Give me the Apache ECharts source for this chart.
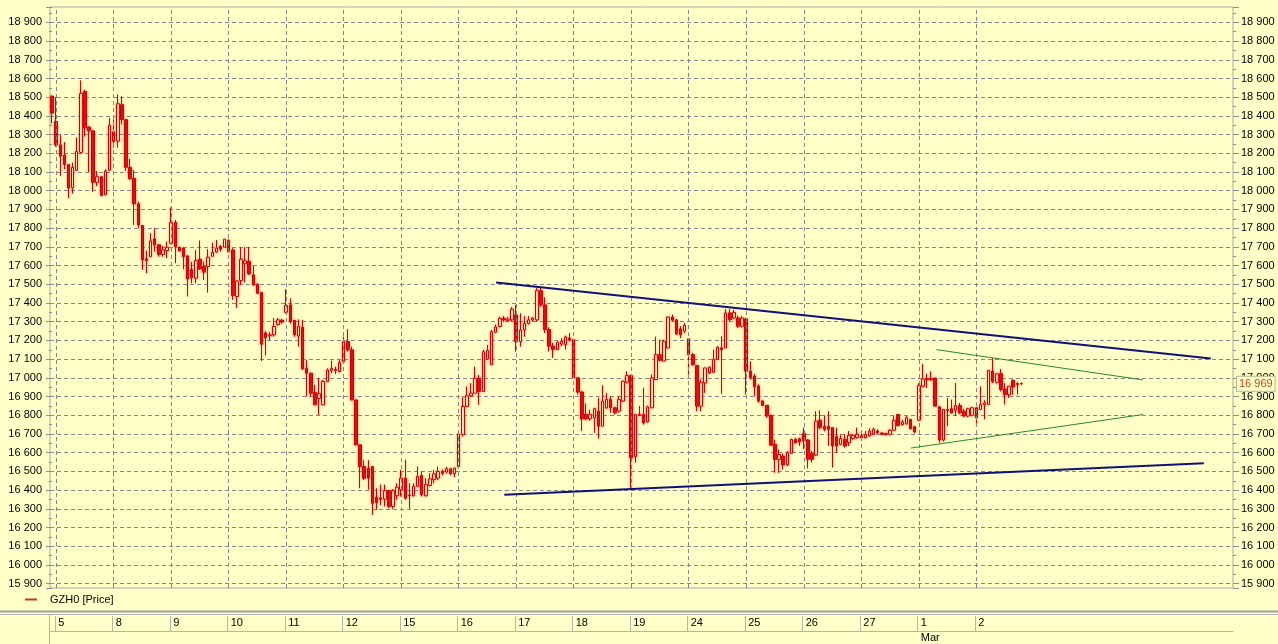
<!DOCTYPE html>
<html>
<head>
<meta charset="utf-8">
<script src="https://cdn.jsdelivr.net/npm/echarts@6.0.0/dist/echarts.min.js"></script>
<style>
html,body{margin:0;padding:0;background:#ffffc8;}
#chart{width:1278px;height:644px;}
</style>
</head>
<body>
<div id="chart"></div>
<script>
// ---- data ----
const seriesName = 'GZH0 [Price]';
const dayLabels = ['5','8','9','10','11','12','15','16','17','18','19','24','25','26','27','1','2'];
const monthLabel = 'Mar';
const monthStartDay = '1';
const barsPerDay = 14;
const totalSlots = 288;

const open = [18505,18370,18245,18190,18140,18015,18110,18205,18530,18340,18320,18045,18075,17980,18110,18315,18265,18460,18380,18125,
18066,17930,17814,17636,17648,17742,17711,17660,17680,17719,17831,17698,17693,17652,17580,17533,17634,17595,17595,17650,
17672,17702,17698,17734,17684,17435,17520,17610,17623,17550,17500,17456,17240,17225,17230,17285,17308,17350,17390,17307,
17224,17270,17052,17025,16922,16890,16856,16980,17040,17045,17034,17087,17194,17150,16882,16642,16526,16517,16526,16362,
16358,16352,16398,16313,16370,16402,16464,16370,16370,16420,16478,16370,16425,16456,16464,16500,16497,16514,16488,16526,
16696,16847,16904,16918,16998,16927,17100,17070,17244,17275,17318,17305,17310,17336,17194,17256,17290,17310,17310,17466,
17390,17258,17170,17151,17180,17178,17213,17204,17000,16924,16805,16782,16787,16822,16742,16840,16884,16840,16822,16876,
16977,17012,16580,16800,16804,16765,16840,16991,17124,17090,17160,17325,17310,17262,17250,17208,17124,17066,16849,16973,
17027,17030,17098,17160,17160,17347,17320,17320,17276,17315,17036,17009,16956,16876,16853,16800,16644,16564,16582,16535,
16597,16671,16675,16704,16668,16597,16587,16774,16740,16740,16734,16686,16645,16672,16654,16676,16680,16690,16680,16690,
16698,16716,16705,16702,16698,16720,16804,16750,16755,16778,16739,16774,16955,16995,16996,16999,16845,16668,16825,16835,
16827,16852,16822,16796,16800,16840,16831,16857,16858,17035,16976,17022,16940,16910,16987,16970,16970];
const high = [18510,18500,18300,18260,18140,18150,18285,18590,18540,18345,18320,18105,18075,18115,18390,18380,18515,18505,18380,18170,
18110,17942,17817,17680,17773,17800,17711,17705,17728,17911,17844,17700,17698,17652,17620,17684,17734,17622,17688,17723,
17737,17710,17741,17741,17693,17520,17698,17700,17700,17600,17505,17456,17250,17245,17320,17320,17315,17474,17425,17310,
17313,17310,17096,17025,16962,17000,16989,17051,17092,17060,17096,17220,17260,17167,16882,16642,16560,16560,16526,16410,
16430,16430,16400,16405,16437,16508,16562,16437,16437,16526,16500,16464,16490,16508,16526,16510,16524,16514,16518,16700,
16900,16954,16972,17060,17016,17149,17176,17256,17285,17327,17330,17325,17378,17390,17345,17330,17330,17325,17480,17480,
17430,17270,17187,17195,17213,17226,17240,17208,17000,16929,16863,16830,16840,16893,16960,16920,16902,16845,16902,16985,
17035,17015,16804,16850,16947,16852,17018,17220,17204,17204,17330,17338,17315,17276,17293,17208,17133,17066,16991,17053,
17060,17151,17169,17222,17368,17368,17364,17332,17330,17320,17089,17020,16965,16880,16853,16800,16670,16617,16596,16609,
16675,16680,16680,16734,16672,16610,16822,16827,16800,16822,16734,16734,16698,16698,16716,16700,16734,16716,16716,16730,
16734,16725,16710,16706,16725,16796,16804,16775,16796,16778,16742,16972,17075,17022,17035,17000,16850,16831,16893,16884,
16973,16866,16835,16840,16845,16845,16955,16880,17040,17105,17025,17047,16972,16955,16990,16975,16975];
const low = [18360,18235,18080,18115,17960,17985,18105,18200,18290,18100,17995,18025,17970,17975,18105,18230,18230,18355,18105,18057,
17817,17800,17577,17560,17648,17675,17648,17648,17640,17716,17613,17675,17580,17435,17505,17505,17577,17523,17456,17650,
17670,17675,17698,17670,17417,17373,17497,17510,17550,17492,17448,17090,17120,17200,17220,17280,17290,17345,17290,17220,
17167,17043,16900,16900,16856,16802,16856,16980,17025,17020,17029,17087,17140,16880,16642,16410,16455,16403,16268,16295,
16320,16313,16304,16300,16349,16366,16349,16300,16365,16420,16366,16366,16420,16437,16455,16480,16490,16480,16470,16520,
16687,16847,16900,16918,16856,16927,17096,17070,17240,17270,17300,17300,17300,17140,17167,17220,17285,17300,17300,17380,
17240,17140,17107,17150,17170,17151,17195,17000,16911,16716,16774,16770,16707,16675,16742,16835,16813,16804,16815,16870,
16970,16413,16547,16795,16750,16760,16840,16990,17090,17090,17160,17300,17230,17213,17240,17009,17065,16822,16822,16920,
17020,17025,17098,16915,17160,17300,17315,17267,17270,16911,16991,16902,16867,16849,16787,16640,16493,16493,16510,16530,
16595,16650,16636,16619,16516,16548,16583,16725,16715,16636,16521,16600,16640,16627,16636,16670,16675,16672,16675,16685,
16695,16700,16695,16693,16695,16718,16740,16745,16750,16725,16705,16769,16950,16946,16985,16849,16654,16660,16742,16810,
16796,16805,16790,16790,16795,16739,16830,16778,16855,16972,16970,16928,16858,16893,16910,16910,16962];
const close = [18415,18245,18185,18140,18015,18125,18210,18520,18335,18320,18045,18075,17975,18105,18350,18265,18465,18380,18125,18066,
17930,17817,17630,17627,17732,17711,17660,17684,17698,17831,17702,17679,17648,17529,17535,17627,17582,17565,17645,17670,
17693,17688,17741,17675,17440,17518,17634,17625,17556,17497,17452,17180,17215,17230,17275,17310,17298,17387,17301,17230,
17274,17048,17025,16918,16856,16915,16980,17042,17050,17040,17082,17194,17150,16882,16642,16526,16464,16464,16330,16333,
16350,16397,16313,16397,16416,16464,16357,16374,16420,16473,16375,16429,16460,16487,16500,16490,16514,16488,16518,16700,
16847,16904,16918,16998,16927,17140,17146,17247,17272,17318,17310,17314,17367,17194,17256,17290,17310,17320,17466,17390,
17258,17169,17152,17190,17195,17219,17204,17000,16924,16781,16781,16805,16835,16742,16876,16884,16840,16813,16884,16982,
17012,16573,16804,16805,16760,16845,17000,17124,17094,17196,17325,17308,17235,17230,17280,17124,17071,16849,16977,17053,
17057,17098,17164,17151,17347,17311,17350,17276,17320,17036,17000,16952,16876,16853,16796,16640,16564,16590,16535,16600,
16671,16653,16657,16663,16565,16565,16769,16734,16725,16725,16636,16636,16676,16636,16693,16693,16698,16680,16698,16716,
16725,16708,16698,16697,16720,16773,16746,16764,16787,16728,16711,16958,16994,16990,16990,16849,16668,16831,16831,16813,
16852,16813,16796,16835,16840,16787,16857,16866,17040,16981,17022,16937,16910,16955,16951,16965,16969];

// trend lines: [bar index, price] end points
const blueUpper = [[108.1, 17510], [282.1, 17104]];
const blueLower = [[110.1, 16376], [280.4, 16544]];
const greenUpper = [[215.3, 17151], [265.6, 16989]];
const greenLower = [[209.1, 16625], [265.6, 16804]];

const yMin = 15877, yMax = 18982;

// ---- build ----
const categories = [];
for (let i = 0; i < totalSlots; i++) categories.push('b' + i);
const dayStart = dayLabels.map((d, k) => 1 + k * barsPerDay);
const labelAt = {};
dayStart.forEach((s, k) => { labelAt[s] = dayLabels[k]; });
const marchIdx = dayStart[dayLabels.indexOf(monthStartDay)];
const ohlc = open.map((o, i) => [o, close[i], low[i], high[i]]);
const lastPrice = close[close.length - 1];

const fmt = v => String(Math.round(v)).replace(/\B(?=(\d{3})+(?!\d))/g, ' ');
const FONT = 'Liberation Sans';
const RED = '#d40000';
const BG = '#ffffc8';
const FRAME = '#b4b4b4';

function yAxisCfg(pos, withSplit) {
  return {
    type: 'value', gridIndex: 0, position: pos, min: yMin, max: yMax, splitNumber: 31,
    axisLine: { show: false },
    axisTick: { show: true, length: 6, lineStyle: { color: '#8c8c8c' } },
    minorTick: { show: true, splitNumber: 2, length: 3, lineStyle: { color: '#8c8c8c' } },
    axisLabel: { fontSize: 11, color: '#000', fontFamily: FONT, margin: 8, showMinLabel: false, showMaxLabel: false, formatter: fmt },
    splitLine: { show: withSplit, showMinLine: false, showMaxLine: false, lineStyle: { color: '#858585', type: [4, 3], width: 1 } }
  };
}

const chart = echarts.init(document.getElementById('chart'), null, { renderer: 'canvas' });
chart.setOption({
  animation: false,
  backgroundColor: BG,
  textStyle: { fontFamily: FONT },
  grid: [
    { left: 50, right: 45, top: 7, bottom: 56, show: true, borderColor: '#a8a8a8', borderWidth: 1, backgroundColor: 'transparent' },
    { left: 50, right: 45, top: 616, height: 15 }
  ],
  legend: {
    left: 25, top: 594, padding: 0, itemWidth: 12, itemHeight: 2,
    textStyle: { fontSize: 11, color: '#000', fontFamily: FONT, padding: [0, 0, 0, 8] },
    data: [{ name: seriesName, icon: 'rect', itemStyle: { color: '#c83030', borderColor: '#c83030', borderWidth: 0 } }],
    selectedMode: false
  },
  xAxis: [
    { type: 'category', gridIndex: 0, data: categories, boundaryGap: true,
      axisLine: { show: false }, axisTick: { show: false }, axisLabel: { show: false }, splitLine: { show: false } },
    { type: 'value', gridIndex: 0, min: -0.5, max: totalSlots - 0.5, show: false, splitLine: { show: false } },
    { type: 'category', gridIndex: 1, data: categories, boundaryGap: true, position: 'bottom',
      axisLine: { show: true, lineStyle: { color: FRAME, width: 1 } },
      axisTick: { show: false },
      splitLine: { show: false },
      axisLabel: { show: true, inside: true, margin: 3, align: 'left', padding: [0, 0, 0, 2],
        interval: (i) => labelAt[i] !== undefined,
        formatter: (v, i) => labelAt[i] || '', fontSize: 11, color: '#000', fontFamily: FONT } },
    { type: 'category', gridIndex: 1, data: categories, boundaryGap: true, position: 'bottom',
      axisLine: { show: false }, axisTick: { show: false }, splitLine: { show: false },
      axisLabel: { show: true, margin: 1, align: 'left', padding: [0, 0, 0, 2],
        interval: (i) => i === marchIdx, formatter: () => monthLabel,
        fontSize: 11, color: '#000', fontFamily: FONT } },
    { type: 'value', gridIndex: 1, min: -0.5, max: totalSlots - 0.5, show: false, splitLine: { show: false } }
  ],
  yAxis: [
    yAxisCfg('left', true),
    yAxisCfg('right', false),
    { type: 'value', gridIndex: 1, show: false, min: 0, max: 1 }
  ],
  graphic: [
    { type: 'line', silent: true, shape: { x1: 0, y1: 611.5, x2: 1278, y2: 611.5 }, style: { stroke: '#a0a0a0', lineWidth: 2 } },
    { type: 'line', silent: true, shape: { x1: 0, y1: 614.5, x2: 1278, y2: 614.5 }, style: { stroke: FRAME, lineWidth: 1 } },
    { type: 'line', silent: true, shape: { x1: 49.5, y1: 615, x2: 49.5, y2: 644 }, style: { stroke: FRAME, lineWidth: 1 } }
  ],
  series: [
    { name: 'vgrid', type: 'line', xAxisIndex: 1, yAxisIndex: 0, data: [], z: 1, silent: true,
      markLine: { silent: true, symbol: ['none', 'none'], animation: false,
        lineStyle: { color: '#858585', type: [4, 3], width: 1 }, label: { show: false },
        emphasis: { disabled: true },
        data: dayStart.map(i => ({ xAxis: i })) } },
    { name: 'dayCells', type: 'line', xAxisIndex: 4, yAxisIndex: 2, data: [], z: 1, silent: true,
      markLine: { silent: true, symbol: ['none', 'none'], animation: false,
        lineStyle: { color: FRAME, type: 'solid', width: 1 }, label: { show: false },
        emphasis: { disabled: true },
        data: dayStart.map(i => ({ xAxis: i - 0.25 })) } },
    { name: seriesName, type: 'candlestick', xAxisIndex: 0, yAxisIndex: 0, data: ohlc, barWidth: 3, z: 4,
      itemStyle: { color: BG, color0: RED, borderColor: RED, borderColor0: RED, borderWidth: 1,
        shadowBlur: 3, shadowColor: 'rgba(255,90,90,0.55)' } },
    { name: 'lastPrice', type: 'line', xAxisIndex: 1, yAxisIndex: 1, data: [], z: 8, silent: true,
      markLine: { silent: true, symbol: ['none', 'none'], animation: false,
        lineStyle: { color: 'rgba(0,0,0,0)', width: 1, type: 'solid' },
        emphasis: { disabled: true },
        label: { show: true, position: 'end', distance: 4, formatter: () => fmt(lastPrice),
          color: '#c8461e', backgroundColor: BG, borderColor: '#b8b890', borderWidth: 1,
          padding: [2, 2, 1, 2], fontSize: 11, fontFamily: FONT },
        data: [{ yAxis: lastPrice }] } },
    { name: 'blueUpper', type: 'line', xAxisIndex: 1, yAxisIndex: 0, data: blueUpper, symbol: 'none', z: 6, silent: true,
      lineStyle: { color: '#101078', width: 2 } },
    { name: 'blueLower', type: 'line', xAxisIndex: 1, yAxisIndex: 0, data: blueLower, symbol: 'none', z: 6, silent: true,
      lineStyle: { color: '#101078', width: 2 } },
    { name: 'greenUpper', type: 'line', xAxisIndex: 1, yAxisIndex: 0, data: greenUpper, symbol: 'none', z: 6, silent: true,
      lineStyle: { color: '#2a8a2a', width: 1 } },
    { name: 'greenLower', type: 'line', xAxisIndex: 1, yAxisIndex: 0, data: greenLower, symbol: 'none', z: 6, silent: true,
      lineStyle: { color: '#2a8a2a', width: 1 } }
  ]
});
</script>
</body>
</html>
